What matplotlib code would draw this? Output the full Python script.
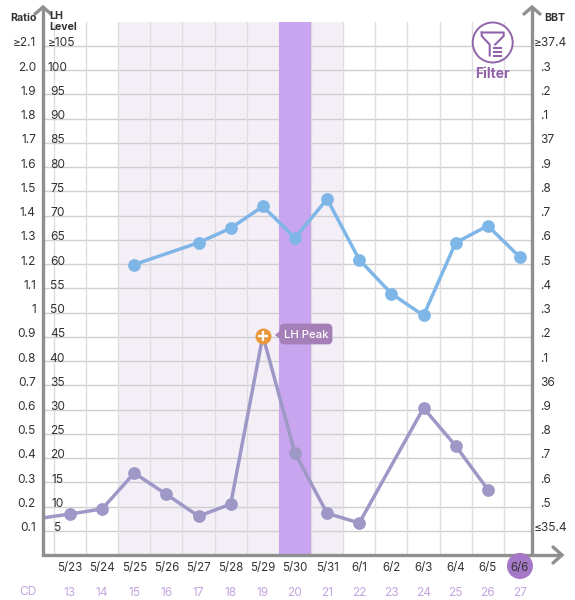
import matplotlib
matplotlib.use("Agg")
import matplotlib.pyplot as plt
from matplotlib.patches import Circle, FancyBboxPatch, Polygon

plt.rcParams['font.family'] = ['Inter', 'DejaVu Sans']

dates = ['5/23','5/24','5/25','5/26','5/27','5/28','5/29','5/30','5/31','6/1','6/2','6/3','6/4','6/5','6/6']
cycle_days = list(range(13, 28))
ratio_ticks = [0.1,0.2,0.3,0.4,0.5,0.6,0.7,0.8,0.9,1.0,1.1,1.2,1.3,1.4,1.5,1.6,1.7,1.8,1.9,2.0,2.1]
ratio_labels = ['0.1','0.2','0.3','0.4','0.5','0.6','0.7','0.8','0.9','1','1.1','1.2','1.3','1.4','1.5','1.6','1.7','1.8','1.9','2.0','≥2.1']
lh_labels = ['5','10','15','20','25','30','35','40','45','50','55','60','65','70','75','80','85','90','95','100','≥105']
bbt_labels = ['≤35.4','.5','.6','.7','.8','.9','36','.1','.2','.3','.4','.5','.6','.7','.8','.9','37','.1','.2','.3','≥37.4']

lh_x = [-1, 0, 1, 2, 3, 4, 5, 6, 7, 8, 9, 11, 12, 13]
lh_y = [7.5, 8.45, 9.5, 16.9, 12.5, 8.0, 10.5, 45.2, 21.0, 8.6, 6.6, 30.3, 22.5, 13.5]
bbt_x = [2, 4, 5, 6, 7, 8, 9, 10, 11, 12, 13, 14]
bbt_y = [36.50, 36.59, 36.65, 36.74, 36.61, 36.77, 36.52, 36.38, 36.29, 36.59, 36.66, 36.53]
fertile_span = (1.5, 8.5)
peak_span = (6.5, 7.5)
today_index = 14

W, H = 575, 600
GRAY, HGRID, VGRID = '#8f8f8f', '#d0ced1', '#dedcdf'
TEXT, LHC, BBTC = '#333333', '#9e98c6', '#7fb6e8'
PURPLE = '#9163aa'
CD = '#c3a5dd'

fig = plt.figure(figsize=(W/100, H/100), dpi=100, facecolor='white')
L, R, B, T = 43, 532, 555, 22
ax = fig.add_axes([L/W, 1-B/H, (R-L)/W, (B-T)/H])
step = 32.14
ax.set_xlim((L-70)/step, (R-70)/step)
ax.set_ylim(0, (B-T)/242.5)
for s in ax.spines.values():
    s.set_visible(False)
ax.set_xticks([])
ax.set_yticks([])

ax.axvspan(*fertile_span, color='#f4eff7', lw=0, zorder=0)
for t in ratio_ticks:
    ax.axhline(t, color=HGRID, lw=1.0, zorder=1)
for i in range(-1, 15):
    ax.axvline(i+0.5, color=VGRID, lw=1.0, zorder=1)
ax.axvspan(*peak_span, color='#c8a5ee', lw=0, zorder=2)

lh = ax.twinx()
lh.set_ylim(ax.get_ylim()[0]*50, ax.get_ylim()[1]*50)
bbt = ax.twinx()
bbt.set_ylim(37 + (143.3-B)/242.5, 37 + (143.3-T)/242.5)
for a in (lh, bbt):
    a.set_yticks([])
    for s in a.spines.values():
        s.set_visible(False)
    a.patch.set_visible(False)

bbt.plot(bbt_x, bbt_y, '-o', color=BBTC, lw=2.5, ms=9.2, mew=0, clip_on=False)
lh.plot(lh_x, lh_y, '-', color=LHC, lw=2.5)
lh.plot(lh_x[1:], lh_y[1:], 'o', color=LHC, ms=9.2, mew=0)
pk = lh_y.index(max(lh_y))
lh.plot(lh_x[pk], lh_y[pk], 'o', color='#e8973a', ms=11.5, mew=0, zorder=5)
lh.plot(lh_x[pk], lh_y[pk], '+', color='white', ms=6.5, mew=1.7, zorder=6)

yt = ax.get_yaxis_transform()
xt = ax.get_xaxis_transform()
def ylab(s, x, v, dx, ha):
    ax.annotate(s, xy=(x, v), xycoords=yt, xytext=(dx, 2.5), textcoords='offset pixels',
                ha=ha, va='center', fontsize=8.6, color=TEXT, annotation_clip=False, zorder=8)
for v, r, l, b in zip(ratio_ticks, ratio_labels, lh_labels, bbt_labels):
    ylab(r, 0, v, -7, 'right')
    if l.startswith('≥'):
        ylab(l, 0, v, 5, 'left')
    else:
        ylab(l, 0, v, 14.5, 'center')
    if b[0] in '≥≤':
        ylab(b, 1, v, 2, 'left')
    else:
        ylab(b, 1, v, 8, 'left')

over = fig.add_axes([0, 0, 1, 1], zorder=10)
over.set_xlim(0, W)
over.set_ylim(H, 0)
over.axis('off')
over.patch.set_visible(False)

# axis lines and arrows
over.plot([L, L, R+30], [7, B, B], color=GRAY, lw=2.4, solid_joinstyle='miter', solid_capstyle='butt')
over.plot([R, R], [7, B], color=GRAY, lw=2.4, solid_capstyle='butt')
for xs, ys in [([L-8, L, L+8], [14, 7, 14]), ([R-8, R, R+8], [14, 7, 14]), ([553, 562, 553], [547, 555, 563])]:
    over.plot(xs, ys, color=GRAY, lw=2.4, solid_capstyle='round', solid_joinstyle='miter')

# today marker behind date label
today_px = 70 + today_index*step
over.add_patch(Circle((today_px, 566), 13, color='#a678c8', lw=0, zorder=3))

for i, (d, c) in enumerate(zip(dates, cycle_days)):
    over.annotate(d, xy=(i, 0), xycoords=xt, xytext=(0, -12.5), textcoords='offset pixels',
                  ha='center', va='center', fontsize=8.3, color=TEXT, zorder=5)
    over.annotate(str(c), xy=(i, 0), xycoords=xt, xytext=(0, -37.5), textcoords='offset pixels',
                  ha='center', va='center', fontsize=8.6, color=CD, zorder=5)

over.text(28, 592, 'CD', ha='center', va='center', fontsize=8.6, color=CD)
over.text(37, 18, 'Ratio', ha='right', va='center', fontsize=7.6, fontweight='bold', color=TEXT)
over.text(49, 16, 'LH', ha='left', va='center', fontsize=7.6, fontweight='bold', color=TEXT)
over.text(49, 27, 'Level', ha='left', va='center', fontsize=7.6, fontweight='bold', color=TEXT)
over.text(544, 18, 'BBT', ha='left', va='center', fontsize=7.6, fontweight='bold', color=TEXT)

# LH Peak callout
over.add_patch(FancyBboxPatch((281, 325), 50, 18, boxstyle='round,pad=0,rounding_size=3', fc='#a57fb8', ec='#a57fb8', lw=2))
over.add_patch(Polygon([[275, 335], [281, 330], [281, 340]], fc='#a57fb8', ec='none'))
over.text(306, 335.5, 'LH Peak', ha='center', va='center', fontsize=8.2, color='white', fontweight='medium')

# Filter icon
cx, cy = 492.7, 42.5
over.add_patch(Circle((cx, cy), 20, fc='white', ec=PURPLE, lw=1.4, alpha=1, zorder=3))
over.plot([cx-11, cx+11, cx+11, cx+2.5, cx+2.5], [cy-10, cy-10, cy-6.5, cy+2, cy+2], color=PURPLE, lw=1.5, zorder=4)
over.plot([cx-11, cx-11, cx-3, cx-3], [cy-10, cy-6.5, cy+2, cy+13], color=PURPLE, lw=1.5, zorder=4)
for dy, x2 in [(5.5, 8), (9, 8), (13, 8)]:
    over.plot([cx+1, cx+x2], [cy+dy, cy+dy], color=PURPLE, lw=1.5, zorder=4)
over.text(cx-0.5, 74, 'Filter', ha='center', va='center', fontsize=10, fontweight='bold', color=PURPLE, zorder=4)

fig.savefig('out.png', dpi=100)
